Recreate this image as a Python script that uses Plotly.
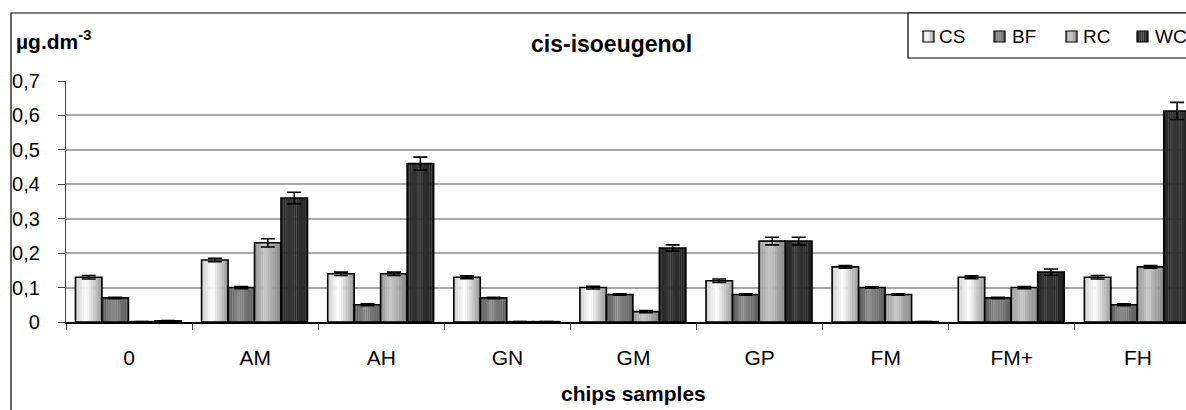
import plotly.graph_objects as go

categories = ["0", "AM", "AH", "GN", "GM", "GP", "FM", "FM+", "FH"]
series_names = ["CS", "BF", "RC", "WC"]
cs = [0.13, 0.18, 0.14, 0.13, 0.10, 0.12, 0.16, 0.13, 0.13]
bf = [0.07, 0.10, 0.05, 0.07, 0.08, 0.08, 0.10, 0.07, 0.05]
rc = [0.001, 0.23, 0.14, 0.001, 0.03, 0.235, 0.08, 0.10, 0.16]
wc = [0.003, 0.36, 0.46, 0.001, 0.215, 0.235, 0.001, 0.145, 0.613]
cs_err = [0.005, 0.005, 0.005, 0.004, 0.004, 0.005, 0.004, 0.004, 0.005]
bf_err = [0.002, 0.003, 0.003, 0.002, 0.002, 0.002, 0.002, 0.002, 0.003]
rc_err = [0.0, 0.012, 0.005, 0.0, 0.003, 0.011, 0.002, 0.003, 0.004]
wc_err = [0.001, 0.017, 0.019, 0.0, 0.009, 0.011, 0.0, 0.009, 0.025]
values = [cs, bf, rc, wc]
errors = [cs_err, bf_err, rc_err, wc_err]
y_tickvals = [0, 0.1, 0.2, 0.3, 0.4, 0.5, 0.6, 0.7]
y_ticktext = ["0", "0,1", "0,2", "0,3", "0,4", "0,5", "0,6", "0,7"]

# gradient profiles (left, peak, right grey levels) per series
profiles = [(205, 255, 150), (85, 140, 90), (150, 200, 130), (38, 54, 34)]
peak_pos = 0.4
NSTRIP = 12

W, H = 1186, 410
L, R, T, B = 66, 0, 81, 88
PW = W - L - R
PH = H - T - B


def px(x):
    return (x - L) / PW


def py(y):
    return (H - B - y) / PH


def grey_at(prof, t):
    a, p, b = prof
    if t <= peak_pos:
        v = a + (p - a) * (t / peak_pos)
    else:
        v = p + (b - p) * ((t - peak_pos) / (1 - peak_pos))
    v = int(round(v))
    return f"rgb({v},{v},{v})"


bw = 0.21
offsets = [-0.425 + k * bw for k in range(4)]

fig = go.Figure()
for s in range(4):
    for j in range(NSTRIP):
        t = (j + 0.5) / NSTRIP
        fig.add_trace(go.Bar(
            x=categories, y=values[s], width=bw / NSTRIP + 0.002,
            offset=offsets[s] + j * bw / NSTRIP,
            marker=dict(color=grey_at(profiles[s], t), line=dict(width=0)),
            showlegend=False, hoverinfo="skip"))
    fig.add_trace(go.Bar(
        x=categories, y=values[s], width=bw, offset=offsets[s], name=series_names[s],
        marker=dict(color="rgba(0,0,0,0)", line=dict(color="black", width=1.6)),
        error_y=dict(type="data", array=errors[s], color="black", thickness=1.6, width=7),
        showlegend=False))

shapes = []
# outer chart border
shapes.append(dict(type="rect", xref="paper", yref="paper", x0=px(11), x1=px(1200),
                   y0=py(412), y1=py(13), line=dict(color="black", width=1.2)))
# legend box
shapes.append(dict(type="rect", xref="paper", yref="paper", x0=px(908), x1=px(1200),
                   y0=py(58), y1=py(13), line=dict(color="black", width=1.2),
                   fillcolor="white"))
annotations = []
leg_sq_x = [923, 994, 1066, 1137]
leg_tx_x = [937, 1010, 1081, 1153]
for s in range(4):
    x0 = leg_sq_x[s]
    n = 5
    for j in range(n):
        t = (j + 0.5) / n
        shapes.append(dict(type="rect", xref="paper", yref="paper",
                           x0=px(x0 + j * 11 / n), x1=px(x0 + (j + 1) * 11 / n),
                           y0=py(42), y1=py(31), line=dict(width=0),
                           fillcolor=grey_at(profiles[s], t)))
    shapes.append(dict(type="rect", xref="paper", yref="paper", x0=px(x0), x1=px(x0 + 11),
                       y0=py(42), y1=py(31), line=dict(color="black", width=1.2)))
    annotations.append(dict(text=series_names[s], xref="paper", yref="paper",
                            x=px(leg_tx_x[s]), y=py(37), xanchor="left", yanchor="middle",
                            showarrow=False, font=dict(size=19, color="black")))

annotations.append(dict(text="<b>cis-isoeugenol</b>", xref="paper", yref="paper",
                        x=px(611), y=py(44), xanchor="center", yanchor="middle",
                        showarrow=False, font=dict(size=23, color="black")))
annotations.append(dict(text="<b>µg.dm<sup>-3</sup></b>", xref="paper", yref="paper",
                        x=px(14), y=py(40), xanchor="left", yanchor="middle",
                        showarrow=False, font=dict(size=21, color="black")))
annotations.append(dict(text="<b>chips samples</b>", xref="paper", yref="paper",
                        x=px(633), y=py(393), xanchor="center", yanchor="middle",
                        showarrow=False, font=dict(size=21, color="black")))

fig.update_layout(
    width=W, height=H,
    margin=dict(l=L, r=R, t=T, b=B),
    barmode="overlay",
    plot_bgcolor="white", paper_bgcolor="white",
    font=dict(family="Liberation Sans, Arial, sans-serif", size=20, color="black"),
    showlegend=False,
    shapes=shapes,
    annotations=annotations,
    xaxis=dict(type="category", range=[-0.5, 8.5 - 15 / 126], tickson="boundaries",
               ticks="outside", ticklen=6, tickcolor="#444", showline=True,
               linecolor="black", linewidth=1.5, showgrid=False, zeroline=False,
               tickfont=dict(size=21), ticklabelstandoff=16),
    yaxis=dict(range=[0, 0.7], tickvals=y_tickvals, ticktext=y_ticktext,
               ticks="outside", ticklen=7, tickcolor="#444", showline=True,
               linecolor="#444", linewidth=1.2, showgrid=True, gridcolor="#a8a8a8",
               gridwidth=1.5, zeroline=False, tickfont=dict(size=20),
               ticklabelstandoff=14),
)

fig.write_html("out.html",
               config={"displayModeBar": False},
               post_script="document.body.style.margin='0';"
                           "document.body.style.overflow='hidden';")
